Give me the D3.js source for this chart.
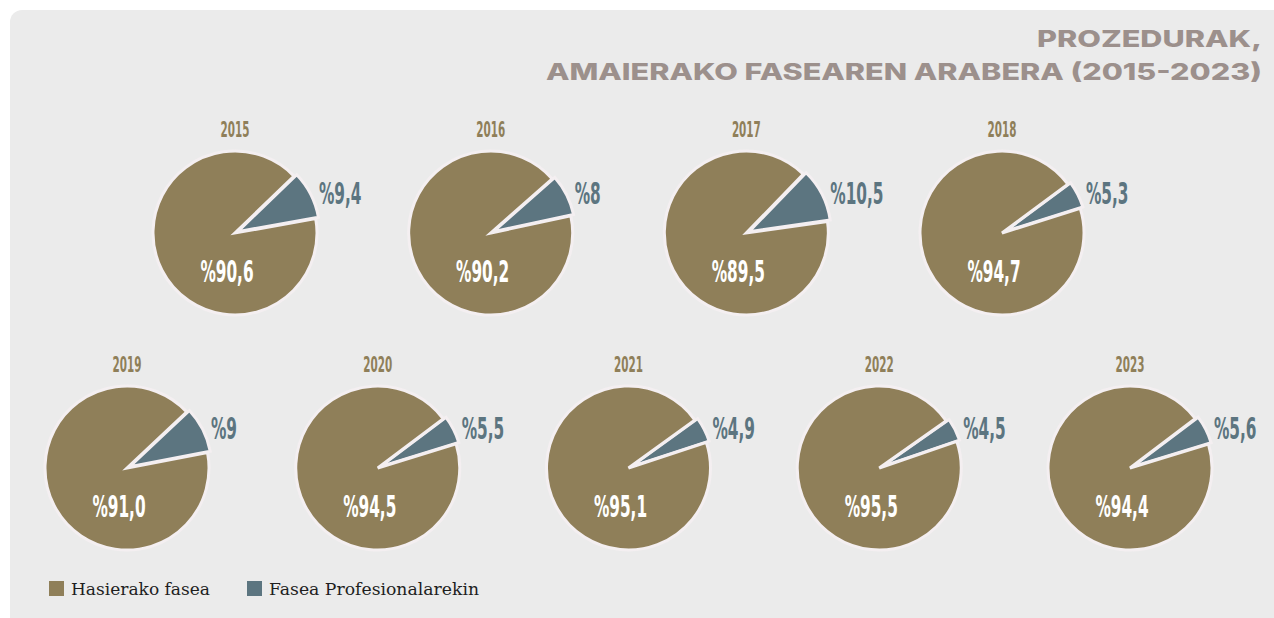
<!DOCTYPE html>
<html>
<head>
<meta charset="utf-8">
<script src="https://cdn.jsdelivr.net/npm/d3@7"></script>
<style>
  body{margin:0;background:#fff;}
  svg{display:block;}
</style>
</head>
<body>
<svg id="chart" width="1274" height="618"></svg>
<script>
// values
var years=["2015","2016","2017","2018","2019","2020","2021","2022","2023"];
var hasierako=[90.6,90.2,89.5,94.7,91.0,94.5,95.1,95.5,94.4];
var profesional=[9.4,8,10.5,5.3,9,5.5,4.9,4.5,5.6];
var legendLabels=["Hasierako fasea","Fasea Profesionalarekin"];
var titleLines=["PROZEDURAK,","AMAIERAKO FASEAREN ARABERA (2015-2023)"];

var colBig="#8f7f59",
 colSmall="#5c7580",
 colTitle="#9c908c",
 sliceStroke="#f4eff1",
 numFont="'DejaVu Sans Condensed','Liberation Sans Narrow',sans-serif",
 squeeze=0.55;

var svg=d3.select("#chart");

// panel
svg.append("rect")
  .attr("x",10).attr("y",10)
  .attr("width",1300).attr("height",700)
  .attr("rx",12)
  .attr("fill","#ebebeb");

// title
var title=svg.append("g").attr("fill",colTitle)
  .style("font-family","Inter, 'DejaVu Sans', sans-serif")
  .style("font-weight",800)
  .style("font-size","23px");
var titleWidths=[225,716];
titleLines.forEach(function(t,i){
  title.append("text")
    .attr("x",1262).attr("y",47+i*33)
    .attr("text-anchor","end")
    .attr("textLength",titleWidths[i])
    .attr("lengthAdjust","spacingAndGlyphs")
    .text(t);
});

// pie positions
var row1=years.slice(0,4), row2=years.slice(4);
var x1=d3.scalePoint().domain(row1).range([235,1002]);
var x2=d3.scalePoint().domain(row2).range([127,1130]);
var r=82;

function center(year){
  if(row1.indexOf(year)!=-1) return [x1(year),233];
  return [x2(year),468];
}

var arc=d3.arc().innerRadius(0).outerRadius(r);
var midAngle=63*Math.PI/180;

function fmtBig(v){ return "%"+d3.format(".1f")(v).replace(".",","); }
function fmtSmall(v){ return "%"+String(v).replace(".",","); }

years.forEach(function(year,i){
  var c=center(year);
  var small=profesional[i]/100*2*Math.PI;
  var start=midAngle-small/2;
  var pie=d3.pie().sort(null).value(function(d){ return d.v; })
    .startAngle(start).endAngle(start+2*Math.PI);
  var slices=pie([{k:"p",v:profesional[i]},{k:"h",v:hasierako[i]}]);

  var g=svg.append("g").attr("transform","translate("+c[0]+","+c[1]+")");

  g.selectAll("path")
    .data(slices)
    .enter().append("path")
      .attr("d",arc)
      .attr("transform",function(d){
        if(d.data.k!="p") return null;
        var a=(d.startAngle+d.endAngle)/2;
        return "translate("+(Math.sin(a)*3)+","+(-Math.cos(a)*3)+")";
      })
      .attr("fill",function(d){ return d.data.k=="p"?colSmall:colBig; })
      .attr("stroke",sliceStroke)
      .attr("stroke-width",3)
      .attr("stroke-linejoin","miter");

  // year label
  g.append("text")
    .attr("transform","translate(0,-96) scale("+squeeze+",1)")
    .attr("text-anchor","middle")
    .attr("fill",colBig)
    .style("font-family",numFont)
    .style("font-weight","bold")
    .style("font-size","21px")
    .text(year);

  // big share
  g.append("text")
    .attr("transform","translate(-8,49) scale("+squeeze+",1)")
    .attr("text-anchor","middle")
    .attr("fill","#fff")
    .style("font-family",numFont)
    .style("font-weight","bold")
    .style("font-size","31px")
    .text(fmtBig(hasierako[i]));

  // small share
  g.append("text")
    .attr("transform","translate(84,-29) scale("+squeeze+",1)")
    .attr("text-anchor","start")
    .attr("fill",colSmall)
    .style("font-family",numFont)
    .style("font-weight","bold")
    .style("font-size","31px")
    .text(fmtSmall(profesional[i]));
});

// legend
var legendX=[49,247], legendW=[139,210];
var legend=svg.append("g");
legendLabels.forEach(function(l,i){
  legend.append("rect")
    .attr("x",legendX[i]).attr("y",581)
    .attr("width",15).attr("height",15)
    .attr("fill",i==0?colBig:colSmall);
  legend.append("text")
    .attr("x",legendX[i]+22).attr("y",595)
    .attr("fill","#1e1e1e")
    .attr("textLength",legendW[i])
    .attr("lengthAdjust","spacingAndGlyphs")
    .style("font-family","'DejaVu Serif','Liberation Serif',serif")
    .style("font-size","16px")
    .text(l);
});
</script>
</body>
</html>
